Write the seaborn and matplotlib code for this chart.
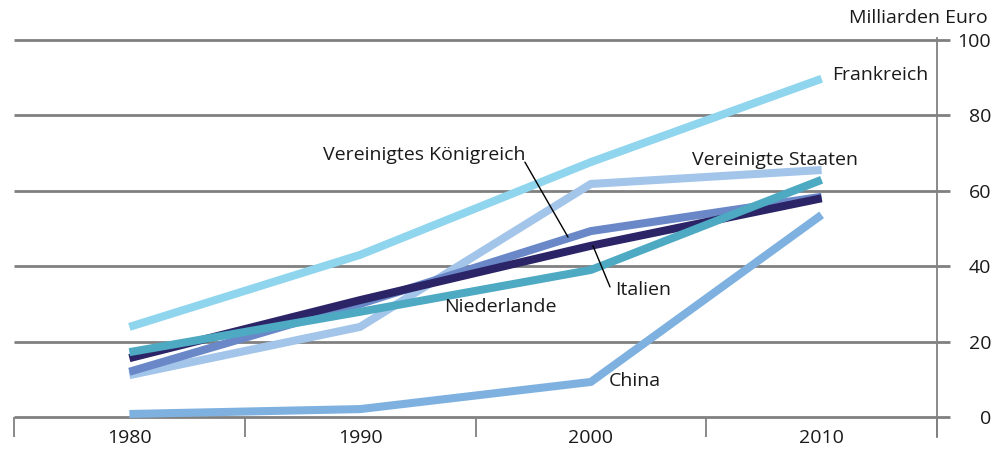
import pandas as pd
import seaborn as sns
import matplotlib.pyplot as plt

jahre = ["1980", "1990", "2000", "2010"]
frankreich = [23.9, 43.0, 67.6, 89.7]
usa = [11.1, 23.9, 61.8, 65.5]
uk = [12.0, 30.0, 49.3, 58.4]
italien = [15.6, 31.0, 45.4, 58.0]
niederlande = [17.2, 27.9, 39.0, 62.9]
china = [0.8, 2.1, 9.3, 53.6]

laender = {
    "Frankreich": frankreich,
    "Vereinigte Staaten": usa,
    "Vereinigtes Königreich": uk,
    "Italien": italien,
    "Niederlande": niederlande,
    "China": china,
}
farben = {
    "Frankreich": "#8fd5ee",
    "Vereinigte Staaten": "#a3c5ea",
    "Vereinigtes Königreich": "#6a88c8",
    "Italien": "#2b2567",
    "Niederlande": "#4eaac3",
    "China": "#7eb1e0",
}

dados = pd.DataFrame(
    [(land, i, w) for land, werte in laender.items() for i, w in enumerate(werte)],
    columns=["Land", "pos", "Wert"],
)

sns.set_style("white")
plt.rcParams["font.family"] = ["Open Sans", "DejaVu Sans"]
plt.rcParams["font.size"] = 14

fig = plt.figure(figsize=(9.97, 4.5), dpi=100)
ax = fig.add_axes([14 / 997, 13 / 450, (937 - 14) / 997, 399 / 450])

grau = "#808080"
for y in range(0, 101, 20):
    ax.axhline(y, color=grau, lw=2, zorder=0)

sns.lineplot(
    data=dados, x="pos", y="Wert", hue="Land", palette=farben,
    hue_order=["China", "Vereinigte Staaten", "Vereinigtes Königreich",
               "Italien", "Niederlande", "Frankreich"],
    linewidth=5.8, legend=False, ax=ax, sort=False,
)
for l in ax.get_lines():
    l.set_solid_capstyle("butt")
    l.set_solid_joinstyle("miter")

ax.set_xlim(-0.5, 3.5)
ax.set_ylim(-5.3, 100.5)
ax.set_xlabel("")
ax.set_ylabel("")

# Trennstriche zwischen den Jahren
ax.vlines([-0.5, 0.5, 1.5, 2.5, 3.5], -5.3, 0, color=grau, lw=1.3, clip_on=False)

ax.set_xticks(range(4))
ax.set_xticklabels(jahre)
ax.tick_params(axis="x", length=0, pad=-6, labelsize=14, colors="#1a1a1a")

ax.yaxis.tick_right()
ax.set_yticks(range(0, 101, 20))
ax.tick_params(axis="y", length=9, width=2, color=grau, pad=30, labelsize=14,
               labelcolor="#1a1a1a")
for lab in ax.get_yticklabels():
    lab.set_horizontalalignment("right")

for s in ["left", "top", "bottom"]:
    ax.spines[s].set_visible(False)
ax.spines["right"].set_color(grau)
ax.spines["right"].set_linewidth(1.3)

fig.text(988 / 997, 1 - 18 / 450, "Milliarden Euro", ha="right", va="center",
         fontsize=14, color="#1a1a1a")

tx = dict(fontsize=14, color="#1a1a1a")
ax.text(3.045, 90.7, "Frankreich", ha="left", va="center", **tx)
ax.text(2.80, 68.2, "Vereinigte Staaten", ha="center", va="center", **tx)
ax.text(1.277, 69.5, "Vereinigtes Königreich", ha="center", va="center", **tx)
ax.text(2.226, 33.7, "Italien", ha="center", va="center", **tx)
ax.text(1.606, 29.2, "Niederlande", ha="center", va="center", **tx)
ax.text(2.191, 9.5, "China", ha="center", va="center", **tx)

ax.plot([1.714, 1.901], [67.6, 47.7], color="black", lw=1)
ax.plot([2.009, 2.083], [45.4, 34.5], color="black", lw=1)

fig.savefig("out.png", dpi=100)
